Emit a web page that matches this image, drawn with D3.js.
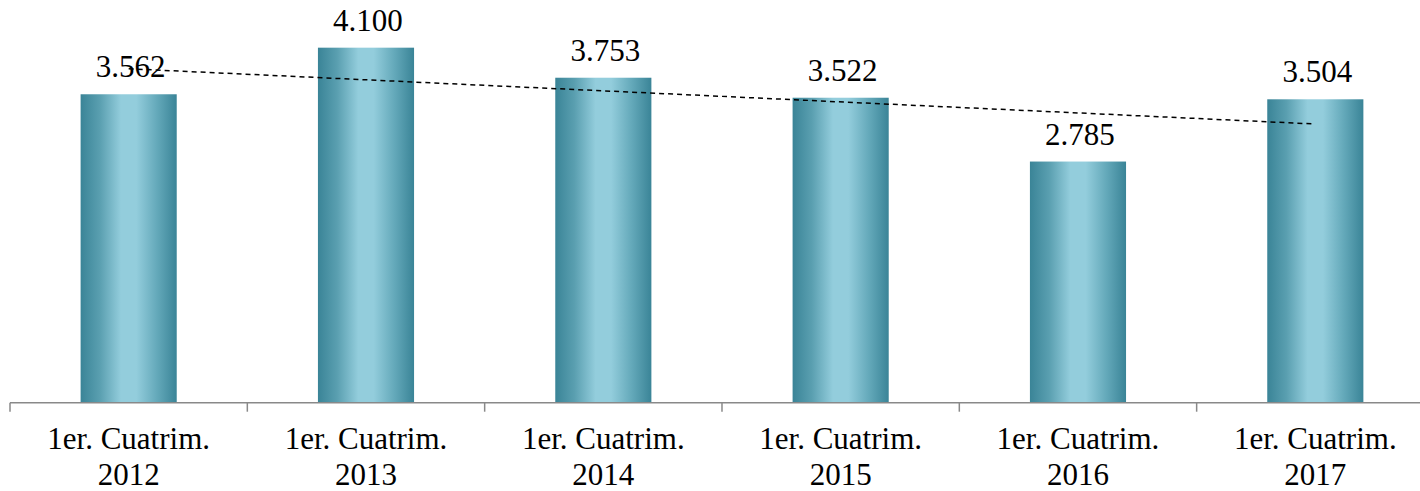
<!DOCTYPE html>
<html>
<head>
<meta charset="utf-8">
<script src="https://cdn.jsdelivr.net/npm/d3@7"></script>
<style>
html,body{margin:0;padding:0;background:#fff;}
svg{display:block;}
</style>
</head>
<body>
<svg id="chart" width="1420" height="491"></svg>
<script>
const categories = ["1er. Cuatrim. 2012","1er. Cuatrim. 2013","1er. Cuatrim. 2014","1er. Cuatrim. 2015","1er. Cuatrim. 2016","1er. Cuatrim. 2017"];
const catLine1 = ["1er. Cuatrim.","1er. Cuatrim.","1er. Cuatrim.","1er. Cuatrim.","1er. Cuatrim.","1er. Cuatrim."];
const catLine2 = ["2012","2013","2014","2015","2016","2017"];
const values = [3562, 4100, 3753, 3522, 2785, 3504];
const valueLabels = ["3.562","4.100","3.753","3.522","2.785","3.504"];

const FONT = '"Liberation Serif"';
const svg = d3.select("#chart");
const baseY = 402.7;
const x = d3.scaleBand().domain(categories).range([10, 10 + 6*237.33]).paddingInner(0.595).paddingOuter(0.2975);
const y = d3.scaleLinear().domain([0, 4500]).range([baseY, baseY - 0.08659*4500]);

const defs = svg.append("defs");
const grad = defs.append("linearGradient").attr("id","barGrad").attr("x1","0").attr("x2","1").attr("y1","0").attr("y2","0");
[["0%","#3a8497"],["20%","#5a9fb0"],["42%","#93cddc"],["58%","#93cddc"],["80%","#63a8b9"],["100%","#3a8497"]]
  .forEach(([o,c])=>grad.append("stop").attr("offset",o).attr("stop-color",c));

// bars
svg.append("g").selectAll("rect").data(values).join("rect")
  .attr("x",(d,i)=>x(categories[i]))
  .attr("y",d=>y(d))
  .attr("width",x.bandwidth())
  .attr("height",d=>baseY - y(d))
  .attr("fill","url(#barGrad)");

// axis
const band = x.step();
const axisG = svg.append("g");
axisG.append("line").attr("x1",10).attr("x2",1420).attr("y1",baseY).attr("y2",baseY)
  .attr("stroke","#898989").attr("stroke-width",1.5);
const tickXs = d3.range(categories.length+1).map(i => x(categories[0]) - x.paddingOuter()*band + i*band);
axisG.selectAll("line.tick").data(tickXs).join("line").attr("class","tick")
  .attr("x1",d=>d).attr("x2",d=>d).attr("y1",baseY).attr("y2",baseY+9)
  .attr("stroke","#898989").attr("stroke-width",1.5);

// category labels
const lab = svg.append("g");
categories.forEach((c,i)=>{
  const cx = x(c) + x.bandwidth()/2;
  [[catLine1[i],449],[catLine2[i],485]].forEach(([t,yy])=>{
    lab.append("text").attr("x",cx).attr("y",yy).attr("text-anchor","middle").attr("fill","#000")
      .style("font-family",FONT).style("font-size","31px").text(t);
  });
});

// value labels
svg.append("g").selectAll("text").data(values).join("text")
  .attr("x",(d,i)=>x(categories[i]) + x.bandwidth()/2 + 2)
  .attr("y",d=>y(d) - 17)
  .attr("text-anchor","middle").attr("fill","#000")
  .style("font-family",FONT).style("font-size","31px")
  .text((d,i)=>valueLabels[i]);

// linear trendline
const n = values.length;
const xs = d3.range(n);
const mx = d3.mean(xs), my = d3.mean(values);
const slope = d3.sum(xs.map((xi,i)=>(xi-mx)*(values[i]-my))) / d3.sum(xs.map(xi=>(xi-mx)*(xi-mx)));
const icpt = my - slope*mx;
const trend = [0, n-1].map(i => [x(categories[i]) + x.bandwidth()/2, y(icpt + slope*i)]);
svg.append("path").attr("d", d3.line()(trend)).attr("fill","none")
  .attr("stroke","#000").attr("stroke-width",1.5).attr("stroke-dasharray","5,4");
</script>
</body>
</html>
